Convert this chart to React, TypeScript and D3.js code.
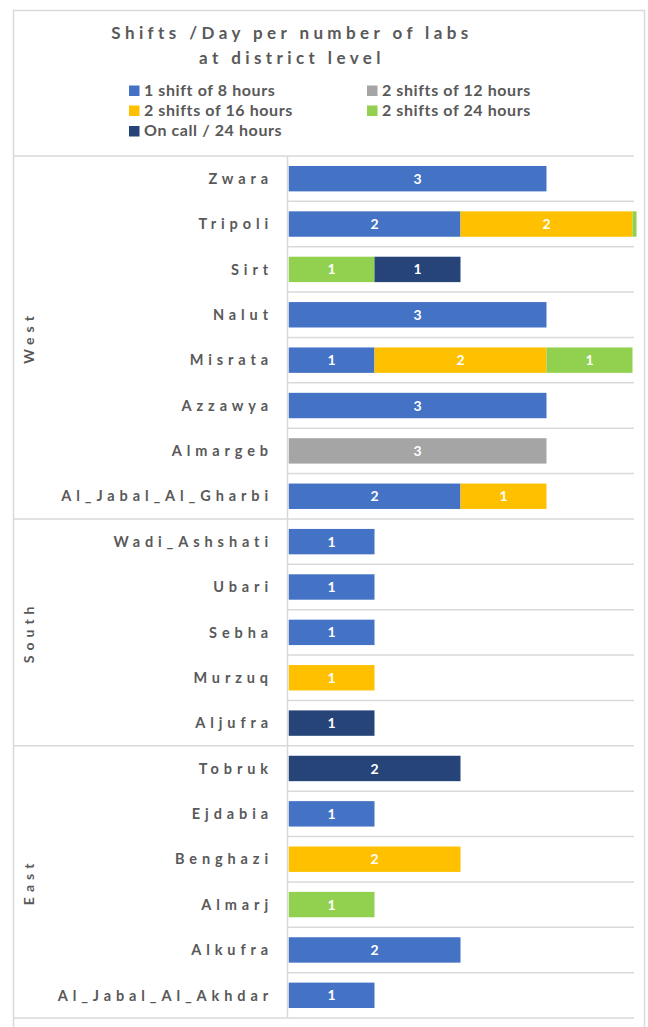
import React from "react";
import * as d3 from "d3";

// districts grouped by region (top to bottom as drawn)
const regions = ["West", "South", "East"];
const districts = [
  "Zwara", "Tripoli", "Sirt", "Nalut", "Misrata", "Azzawya", "Almargeb", "Al_Jabal_Al_Gharbi",
  "Wadi_Ashshati", "Ubari", "Sebha", "Murzuq", "Aljufra",
  "Tobruk", "Ejdabia", "Benghazi", "Almarj", "Alkufra", "Al_Jabal_Al_Akhdar",
];
const districtRegion = [
  "West", "West", "West", "West", "West", "West", "West", "West",
  "South", "South", "South", "South", "South",
  "East", "East", "East", "East", "East", "East",
];

const seriesNames = [
  "1 shift of 8 hours",
  "2 shifts of 12 hours",
  "2 shifts of 16 hours",
  "2 shifts of 24 hours",
  "On call / 24 hours",
];
const seriesColors = ["#4472C4", "#A5A5A5", "#FFC000", "#92D050", "#264478"];

// one array per series, same order as districts
const shift8h = [3, 2, 0, 3, 1, 3, 0, 2, 1, 1, 1, 0, 0, 0, 1, 0, 0, 2, 1];
const shift12h = [0, 0, 0, 0, 0, 0, 3, 0, 0, 0, 0, 0, 0, 0, 0, 0, 0, 0, 0];
const shift16h = [0, 2, 0, 0, 2, 0, 0, 1, 0, 0, 0, 1, 0, 0, 0, 2, 0, 0, 0];
const shift24h = [0, 1, 1, 0, 1, 0, 0, 0, 0, 0, 0, 0, 0, 0, 0, 0, 1, 0, 0];
const onCall = [0, 0, 1, 0, 0, 0, 0, 0, 0, 0, 0, 0, 1, 2, 0, 0, 0, 0, 0];

const titleLines = ["Shifts /Day per number of labs", "at district level"];

const W = 648;
const H = 1027;
const font = "Lato, 'Open Sans', sans-serif";
const textColor = "#595959";
const gridColor = "#D9D9D9";

export default function App() {
  const plotTop = 156;
  const plotBottom = 1018;
  const labelLeft = 14;
  const axisX = 287.5;
  const gridRight = 634;

  const x = d3.scaleLinear().domain([0, 4]).range([288.5, 632.5]);
  const y = d3
    .scaleBand()
    .domain(districts)
    .range([plotTop, plotBottom])
    .paddingInner(0.44)
    .paddingOuter(0.22);
  const step = y.step();

  const rows = districts.map((d, i) => ({
    name: d,
    values: [shift8h[i], shift12h[i], shift16h[i], shift24h[i], onCall[i]],
  }));
  const stack = d3
    .stack<{ name: string; values: number[] }, number>()
    .keys([0, 1, 2, 3, 4])
    .value((d, k) => d.values[k]);
  const stacked = stack(rows);

  // Excel clips the overflowing segment at the plot edge
  const clipRight = x(4) + 4;

  const regionSpans = regions.map((r) => {
    const idx = districtRegion.map((v, i) => (v === r ? i : -1)).filter((i) => i >= 0);
    return { name: r, first: idx[0], last: idx[idx.length - 1] };
  });
  const regionBreaks = new Set(regionSpans.map((s) => s.first).concat([districts.length]));

  const legendItems = [
    { i: 0, x: 129, y: 95.5 },
    { i: 1, x: 367, y: 95.5 },
    { i: 2, x: 129, y: 115.5 },
    { i: 3, x: 367, y: 115.5 },
    { i: 4, x: 129, y: 136 },
  ];

  return (
    <svg width={W} height={H} style={{ position: "absolute", left: 0, top: 0, background: "#fff" }}>
      <defs>
        <clipPath id="plotClip">
          <rect x={x(0)} y={plotTop} width={clipRight - x(0)} height={plotBottom - plotTop} />
        </clipPath>
      </defs>
      <rect x={0} y={0} width={W} height={H} fill="#fff" />
      <rect x={13.5} y={10.5} width={631} height={1030} fill="#fff" stroke={gridColor} strokeWidth={1.5} />

      {/* title */}
      {titleLines.map((t, i) => (
        <text
          key={t}
          x={292}
          y={39 + i * 25}
          textAnchor="middle"
          fontFamily={font}
          fontWeight="bold"
          fontSize={17}
          letterSpacing={4.4}
          fill={textColor}
        >
          {t}
        </text>
      ))}

      {/* legend */}
      {legendItems.map((l) => (
        <g key={l.i}>
          <rect x={l.x} y={l.y - 10} width={10.5} height={10.5} fill={seriesColors[l.i]} />
          <text
            x={l.x + 15}
            y={l.y}
            fontFamily={font}
            fontWeight="bold"
            fontSize={16}
            letterSpacing={0.6}
            fill={textColor}
          >
            {seriesNames[l.i]}
          </text>
        </g>
      ))}

      {/* gridlines between categories */}
      {d3.range(districts.length + 1).map((i) => {
        const yy = plotTop + i * step;
        const isBreak = regionBreaks.has(i);
        return (
          <line
            key={i}
            x1={isBreak ? labelLeft : axisX}
            x2={gridRight}
            y1={yy}
            y2={yy}
            stroke={gridColor}
            strokeWidth={1.5}
          />
        );
      })}
      <line x1={axisX} x2={axisX} y1={plotTop} y2={plotBottom} stroke={gridColor} strokeWidth={1.5} />

      {/* bars */}
      <g clipPath="url(#plotClip)">
        {stacked.map((layer, k) =>
          layer.map((seg, i) => {
            const v = seg[1] - seg[0];
            if (v <= 0) return null;
            const x0 = x(seg[0]);
            const x1 = x(seg[1]);
            const cx = (x0 + x1) / 2;
            const yy = y(districts[i])!;
            return (
              <g key={`${k}-${i}`}>
                <rect x={x0} y={yy} width={x1 - x0} height={y.bandwidth()} fill={seriesColors[k]} />
                {cx < clipRight && (
                  <text
                    x={cx}
                    y={yy + y.bandwidth() / 2}
                    dy="0.36em"
                    textAnchor="middle"
                    fontFamily={font}
                    fontWeight="bold"
                    fontSize={14}
                    fill="#fff"
                  >
                    {v}
                  </text>
                )}
              </g>
            );
          })
        )}
      </g>

      {/* category labels */}
      {districts.map((d) => (
        <text
          key={d}
          x={273}
          y={y(d)! + y.bandwidth() / 2}
          dy="0.36em"
          textAnchor="end"
          fontFamily={font}
          fontWeight="bold"
          fontSize={14.5}
          letterSpacing={4.9}
          fill={textColor}
        >
          {d}
        </text>
      ))}

      {/* region labels */}
      {regionSpans.map((s) => {
        const cy = (plotTop + s.first * step + plotTop + (s.last + 1) * step) / 2;
        return (
          <text
            key={s.name}
            transform={`translate(28.5,${cy}) rotate(-90)`}
            textAnchor="middle"
            dy="0.36em"
            fontFamily={font}
            fontWeight="bold"
            fontSize={14}
            letterSpacing={5}
            fill={textColor}
          >
            {s.name}
          </text>
        );
      })}
    </svg>
  );
}
